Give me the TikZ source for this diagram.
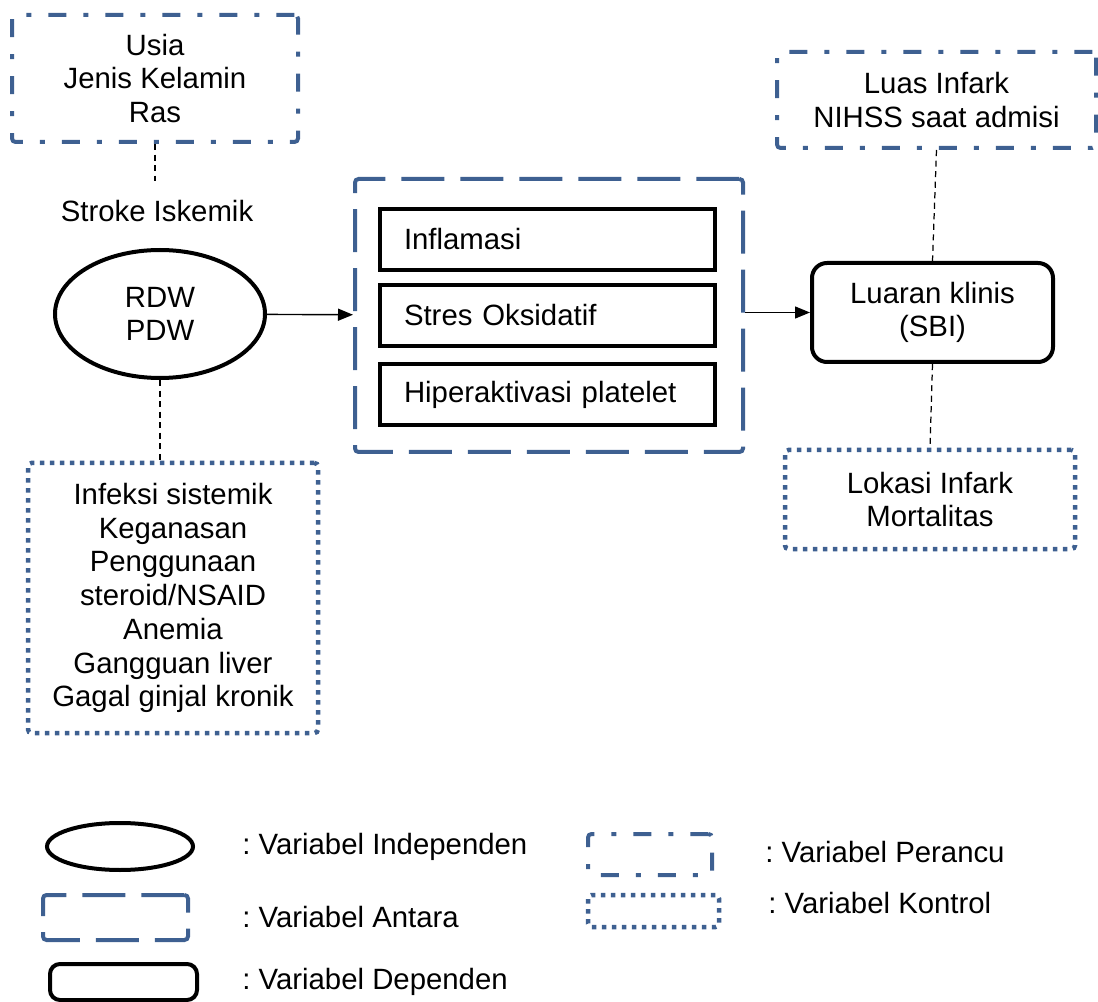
\documentclass[tikz,border=0pt]{standalone}
\usepackage{fontspec}
\setmainfont{Liberation Sans}
\usepackage{tikz}
\usetikzlibrary{positioning, arrows.meta, shapes.geometric}
\definecolor{garisbiru}{RGB}{62,96,145}
\frenchspacing

\begin{document}
\begin{tikzpicture}[
    font=\fontsize{16.7}{19.2}\selectfont,
    perancu/.style={draw=garisbiru, line width=0.08cm, rounded corners=2pt, dash pattern=on 0.36cm off 0.34cm on 0.1cm off 0.34cm, align=center},
    antara/.style={draw=garisbiru, line width=0.08cm, rounded corners=2pt, dash pattern=on 0.86cm off 0.32cm},
    kontrol/.style={draw=garisbiru, line width=0.09cm, rounded corners=2pt, dash pattern=on 0.09cm off 0.11cm, align=center},
    bebas/.style={draw, ellipse, line width=0.08cm, align=center, inner sep=0pt},
    terikat/.style={draw, line width=0.08cm, rounded corners=0.3cm, align=center},
    proses/.style={draw, line width=0.08cm, minimum height=1.22cm, text width=5.74cm, inner xsep=0.48cm, align=left, anchor=west},
    arr/.style={-{Triangle[length=0.3cm, width=0.24cm]}, line width=0.8pt},
    garis/.style={line width=0.7pt, dash pattern=on 3.5pt off 2.5pt},
    ket/.style={anchor=west, inner xsep=0pt}
]
    \useasboundingbox (0,0) rectangle (21.96,-20.04);

    % left column
    \node[perancu, minimum width=5.72cm, minimum height=2.54cm] (conf) at (3.10,-1.57) {Usia\\Jenis Kelamin\\Ras};
    \node (stroke) at (3.14,-4.22) {Stroke Iskemik};
    \node[bebas, minimum width=4.2cm, minimum height=2.56cm] (rdw) at (3.20,-6.28) {RDW\\PDW};
    \node[kontrol, minimum width=5.8cm, minimum height=5.4cm] (ctrl) at (3.46,-11.96)
        {Infeksi sistemik\\Keganasan\\Penggunaan\\steroid/NSAID\\Anemia\\Gangguan liver\\Gagal ginjal kronik};

    % mechanisms in between
    \node[antara, minimum width=7.76cm, minimum height=5.46cm] (antarabox) at (10.98,-6.31) {};
    \node[proses] (inflam) at (7.56,-4.79) {Inflamasi};
    \node[proses] (stres)  at (7.56,-6.31) {Stres Oksidatif};
    \node[proses] (hiper)  at (7.56,-7.89) {Hiperaktivasi platelet};

    % right column
    \node[perancu, minimum width=6.38cm, minimum height=1.92cm] (luas) at (18.73,-2.00) {Luas Infark\\NIHSS saat admisi};
    \node[terikat, minimum width=4.82cm, minimum height=1.98cm] (luaran) at (18.65,-6.25) {Luaran klinis\\(SBI)};
    \node[kontrol, minimum width=5.8cm, minimum height=1.98cm] (lokasi) at (18.60,-9.99) {Lokasi Infark\\Mortalitas};

    \draw[garis] (conf.south) -- (conf.south |- stroke.north) [shorten >=0.26cm];
    \draw[garis] (rdw.south) -- (rdw.south |- ctrl.north);
    \draw[garis] (luas.south) -- (luaran.north);
    \draw[garis] (luaran.south) -- (lokasi.north);
    \draw[arr] (rdw) -- (antarabox);
    \draw[arr] (antarabox.east |- luaran.west) -- (luaran.west);

    % legend
    \node[bebas, minimum width=2.92cm, minimum height=0.94cm] (kbebas) at (2.40,-16.93) {};
    \node[antara, minimum width=2.9cm, minimum height=0.9cm] (kantara) at (2.31,-18.35) {};
    \node[terikat, rounded corners=0.2cm, minimum width=2.94cm, minimum height=0.72cm] (kterikat) at (2.47,-19.64) {};
    \node[perancu, minimum width=2.48cm, minimum height=0.82cm] (kperancu) at (13.00,-17.09) {};
    \node[kontrol, minimum width=2.62cm, minimum height=0.64cm] (kkontrol) at (13.07,-18.22) {};
    \node[ket] (tbebas)   at (4.84,-16.94) {: Variabel Independen};
    \node[ket] (tantara)  at (4.84,-18.34) {: Variabel Antara};
    \node[ket] (tterikat) at (4.84,-19.64) {: Variabel Dependen};
    \node[ket] (tperancu) at (15.30,-17.04) {: Variabel Perancu};
    \node[ket] (tkontrol) at (15.36,-18.06) {: Variabel Kontrol};
\end{tikzpicture}
\end{document}
